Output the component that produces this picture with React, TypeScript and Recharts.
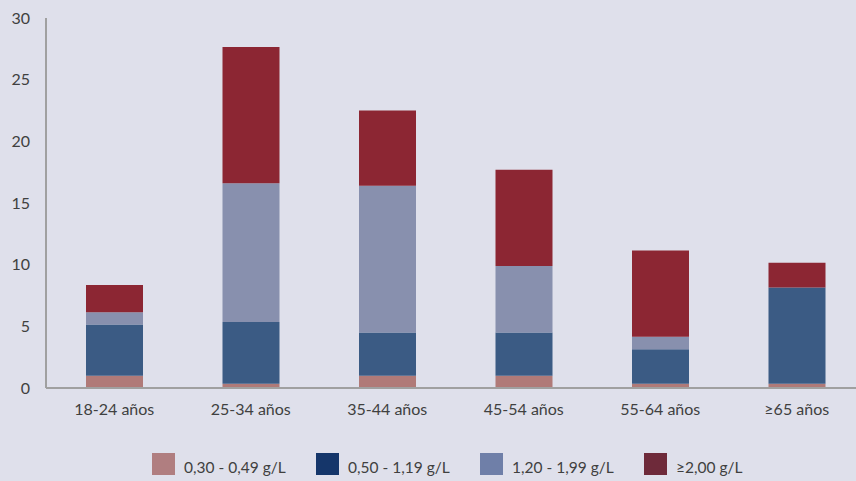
import { BarChart, Bar, XAxis, YAxis, Legend } from "recharts";

const ageGroups = ["18-24 años", "25-34 años", "35-44 años", "45-54 años", "55-64 años", "≥65 años"];
const range030 = [1.0, 0.35, 1.0, 1.0, 0.35, 0.35];
const range050 = [4.15, 5.0, 3.5, 3.5, 2.8, 7.8];
const range120 = [1.0, 11.25, 11.9, 5.4, 1.0, 0];
const range200 = [2.2, 11.05, 6.1, 7.8, 7.0, 2.0];
const yTicks = [0, 5, 10, 15, 20, 25, 30];

const series = [
  { key: "r030", name: "0,30 - 0,49 g/L", fill: "#b07a78", legend: "#b07e80" },
  { key: "r050", name: "0,50 - 1,19 g/L", fill: "#3b5b84", legend: "#15366a" },
  { key: "r120", name: "1,20 - 1,99 g/L", fill: "#8890ae", legend: "#6f7fa8" },
  { key: "r200", name: "≥2,00 g/L", fill: "#8c2633", legend: "#6e2a3a" },
];

const data = ageGroups.map((name, i) => ({
  name,
  r030: range030[i],
  r050: range050[i],
  r120: range120[i],
  r200: range200[i],
}));

const textColor = "#404040";
const axisColor = "#a0a0a0";

// legend swatches are a shade darker than the bars themselves
const LegendRow = () => (
  <div style={{ display: "flex", paddingLeft: 152, paddingTop: 29 }}>
    {series.map((s) => (
      <div key={s.key} style={{ width: 164, display: "flex", alignItems: "flex-end" }}>
        <span style={{ display: "inline-block", width: 23, height: 22, background: s.legend, marginRight: 9 }} />
        <span style={{ fontSize: 15.5, color: textColor, lineHeight: "18px", position: "relative", top: 1 }}>{s.name}</span>
      </div>
    ))}
  </div>
);

export default function App() {
  return (
    <div
      style={{
        position: "absolute",
        left: 0,
        top: 0,
        width: 856,
        height: 481,
        overflow: "hidden",
        background: "#dfe0eb",
        fontFamily: "Lato, sans-serif",
      }}
    >
      <BarChart
        width={870}
        height={481}
        data={data}
        margin={{ top: 18, right: 5, left: 0, bottom: 0 }}
        barSize={57}
      >
        <XAxis
          dataKey="name"
          height={36}
          tickLine={false}
          tickMargin={10}
          axisLine={{ stroke: axisColor, strokeWidth: 2 }}
          tick={{ fill: textColor, fontSize: 16 }}
        />
        <YAxis
          width={46}
          domain={[0, 30]}
          ticks={yTicks}
          tickLine={false}
          tickMargin={10}
          axisLine={{ stroke: axisColor, strokeWidth: 2 }}
          tick={{ fill: textColor, fontSize: 16 }}
        />
        <Legend verticalAlign="bottom" height={57} content={() => <LegendRow />} />
        {series.map((s) => (
          <Bar key={s.key} dataKey={s.key} name={s.name} stackId="a" fill={s.fill} isAnimationActive={false} />
        ))}
      </BarChart>
    </div>
  );
}
